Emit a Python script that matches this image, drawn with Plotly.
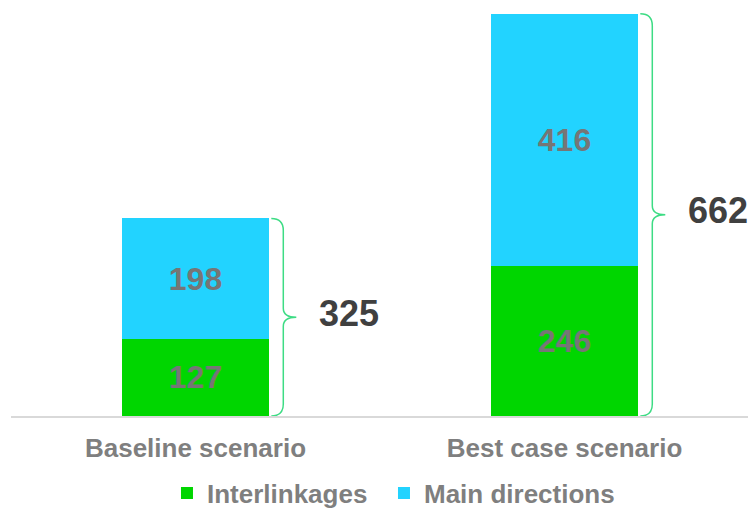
import plotly.graph_objects as go

categories = ["Baseline scenario", "Best case scenario"]
interlinkages = [127, 246]
main_directions = [198, 416]
totals = [a + b for a, b in zip(interlinkages, main_directions)]

GREEN = "#00d600"
CYAN = "#22d3ff"
FONT = "Arial, 'Liberation Sans', sans-serif"
BAR_W = 0.4

xs = list(range(len(categories)))

fig = go.Figure()
fig.add_trace(go.Bar(
    x=xs, y=interlinkages, name="Interlinkages", width=BAR_W,
    marker=dict(color=GREEN, line=dict(width=0)),
    text=interlinkages, textposition="inside", insidetextanchor="middle",
    textfont=dict(family=FONT, size=32, color="#767676", weight="bold"),
    constraintext="none", legendwidth=172,
))
fig.add_trace(go.Bar(
    x=xs, y=main_directions, name="Main directions", width=BAR_W,
    marker=dict(color=CYAN, line=dict(width=0)),
    text=main_directions, textposition="inside", insidetextanchor="middle",
    textfont=dict(family=FONT, size=32, color="#767676", weight="bold"),
    constraintext="none", legendwidth=205,
))

# curly braces + totals
px_per_x = 369.0
px_per_y = 0.608
for i, t in enumerate(totals):
    edge = i + BAR_W / 2
    x0 = edge + 2 / px_per_x
    xv = edge + 14 / px_per_x
    xt = edge + 27 / px_per_x
    r = 12 / px_per_y
    rm = 9 / px_per_y
    mid = t / 2
    path = (f"M {x0},{t} Q {xv},{t} {xv},{t - r} "
            f"L {xv},{mid + rm} Q {xv},{mid} {xt},{mid} "
            f"Q {xv},{mid} {xv},{mid - rm} "
            f"L {xv},{r} Q {xv},0 {x0},0")
    fig.add_shape(type="path", path=path, xref="x", yref="y",
                  line=dict(color="#3ddc84", width=1.5))
    fig.add_annotation(x=edge + 80 / px_per_x, y=mid + 4 / px_per_y, text=str(t),
                       showarrow=False, xanchor="center", yanchor="middle",
                       font=dict(family=FONT, size=36, color="#404040", weight="bold"))

fig.update_layout(
    barmode="stack",
    width=756, height=509,
    margin=dict(l=3, r=15, t=2, b=101),
    plot_bgcolor="white", paper_bgcolor="white",
    showlegend=True,
    legend=dict(orientation="h", xref="container", yref="container",
                x=0.2103, xanchor="left", y=0.047, yanchor="middle",
                font=dict(family=FONT, size=26, color="#7f7f7f", weight="bold"),
                itemclick=False, traceorder="normal"),
    xaxis=dict(range=[-0.5, 1.5], tickvals=xs, ticktext=categories,
               showgrid=False, zeroline=False, showline=True,
               linecolor="#d9d9d9", linewidth=1.5, ticks="",
               ticklabelstandoff=8,
               tickfont=dict(family=FONT, size=26, color="#7f7f7f", weight="bold")),
    yaxis=dict(range=[0, 668], visible=False, showgrid=False, zeroline=False),
)

fig.write_html("out.html")
